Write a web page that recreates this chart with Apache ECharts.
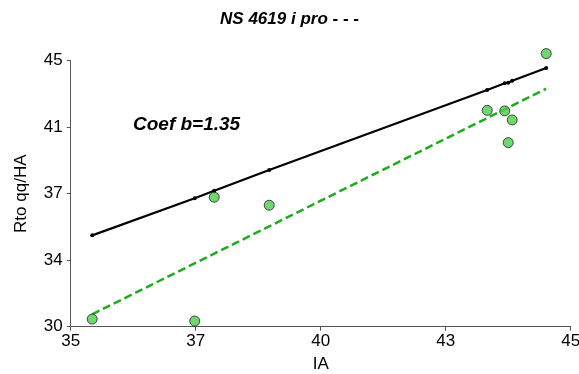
<!DOCTYPE html>
<html><head><meta charset="utf-8">
<script src="https://cdn.jsdelivr.net/npm/echarts@6/dist/echarts.min.js"></script>
<style>html,body{margin:0;padding:0;background:#fff}#c{width:579px;height:374px}</style>
</head><body><div id="c"></div>
<script>
const xValues = [35.43, 37.48, 37.87, 38.97, 43.33, 43.68, 43.75, 43.83, 44.51];
const fitValues = [35.15, 37.24, 37.67, 38.84, 43.35, 43.73, 43.76, 43.87, 44.59];
const obsX = [35.43, 37.48, 37.87, 38.97, 43.33, 43.68, 43.83, 43.75, 44.51];
const obsValues = [30.43, 30.32, 37.30, 36.85, 42.20, 42.17, 41.66, 40.38, 45.40];
const trendX = [35.43, 44.51];
const trendY = [30.70, 43.42];
const xTickLabels = ['35', '37', '40', '43', '45'];
const yTickLabels = ['30', '34', '37', '41', '45'];
const titleText = 'NS 4619 i pro - - -';
const coefText = 'Coef b=1.35';

const font = 'Liberation Sans, Arial, sans-serif';
const chart = echarts.init(document.getElementById('c'), null, {renderer: 'canvas'});
const axisCommon = {
  axisLine: {show: true, lineStyle: {color: '#555', width: 1}},
  axisTick: {show: true, inside: false, length: 4, lineStyle: {color: '#555'}},
  splitLine: {show: false},
  nameTextStyle: {color: '#000', fontSize: 17, fontFamily: font}
};
chart.setOption({
  animation: false,
  title: {text: titleText, left: 'center', top: 6,
    textStyle: {fontSize: 17, fontWeight: 'bold', fontStyle: 'italic', color: '#000', fontFamily: font}},
  grid: {left: 70.7, right: 8.3, top: 60.7, bottom: 47.3, containLabel: false, outerBoundsMode: 'none'},
  xAxis: Object.assign({}, axisCommon, {
    type: 'value', min: 35, max: 45, interval: 2.5,
    name: 'IA', nameLocation: 'middle', nameGap: 29,
    axisLabel: {color: '#000', fontSize: 17, fontFamily: font, margin: 6,
      formatter: (v) => xTickLabels[Math.round((v - 35) / 2.5)]}
  }),
  yAxis: Object.assign({}, axisCommon, {
    type: 'value', min: 30, max: 45, interval: 3.75,
    name: 'Rto qq/HA', nameLocation: 'middle', nameGap: 41,
    axisLabel: {color: '#000', fontSize: 17, fontFamily: font, margin: 8,
      formatter: (v) => yTickLabels[Math.round((v - 30) / 3.75)]}
  }),
  graphic: [{type: 'text', left: 133, top: 115,
    style: {text: coefText, font: 'italic bold 19px ' + font, fill: '#000'}}],
  series: [
    {type: 'line', data: trendX.map((x, i) => [x, trendY[i]]), symbol: 'none', clip: false,
      lineStyle: {color: '#1faa1f', width: 2.5, type: [8, 4]}, z: 2},
    {type: 'line', data: xValues.map((x, i) => [x, fitValues[i]]), symbol: 'circle', symbolSize: 4, clip: false,
      itemStyle: {color: '#000'}, lineStyle: {color: '#000', width: 2.2}, z: 3},
    {type: 'scatter', data: obsX.map((x, i) => [x, obsValues[i]]), symbol: 'circle', symbolSize: 10, clip: false,
      itemStyle: {color: '#4ccc4c', borderColor: '#222', borderWidth: 1}, z: 4}
  ]
});
</script></body></html>
